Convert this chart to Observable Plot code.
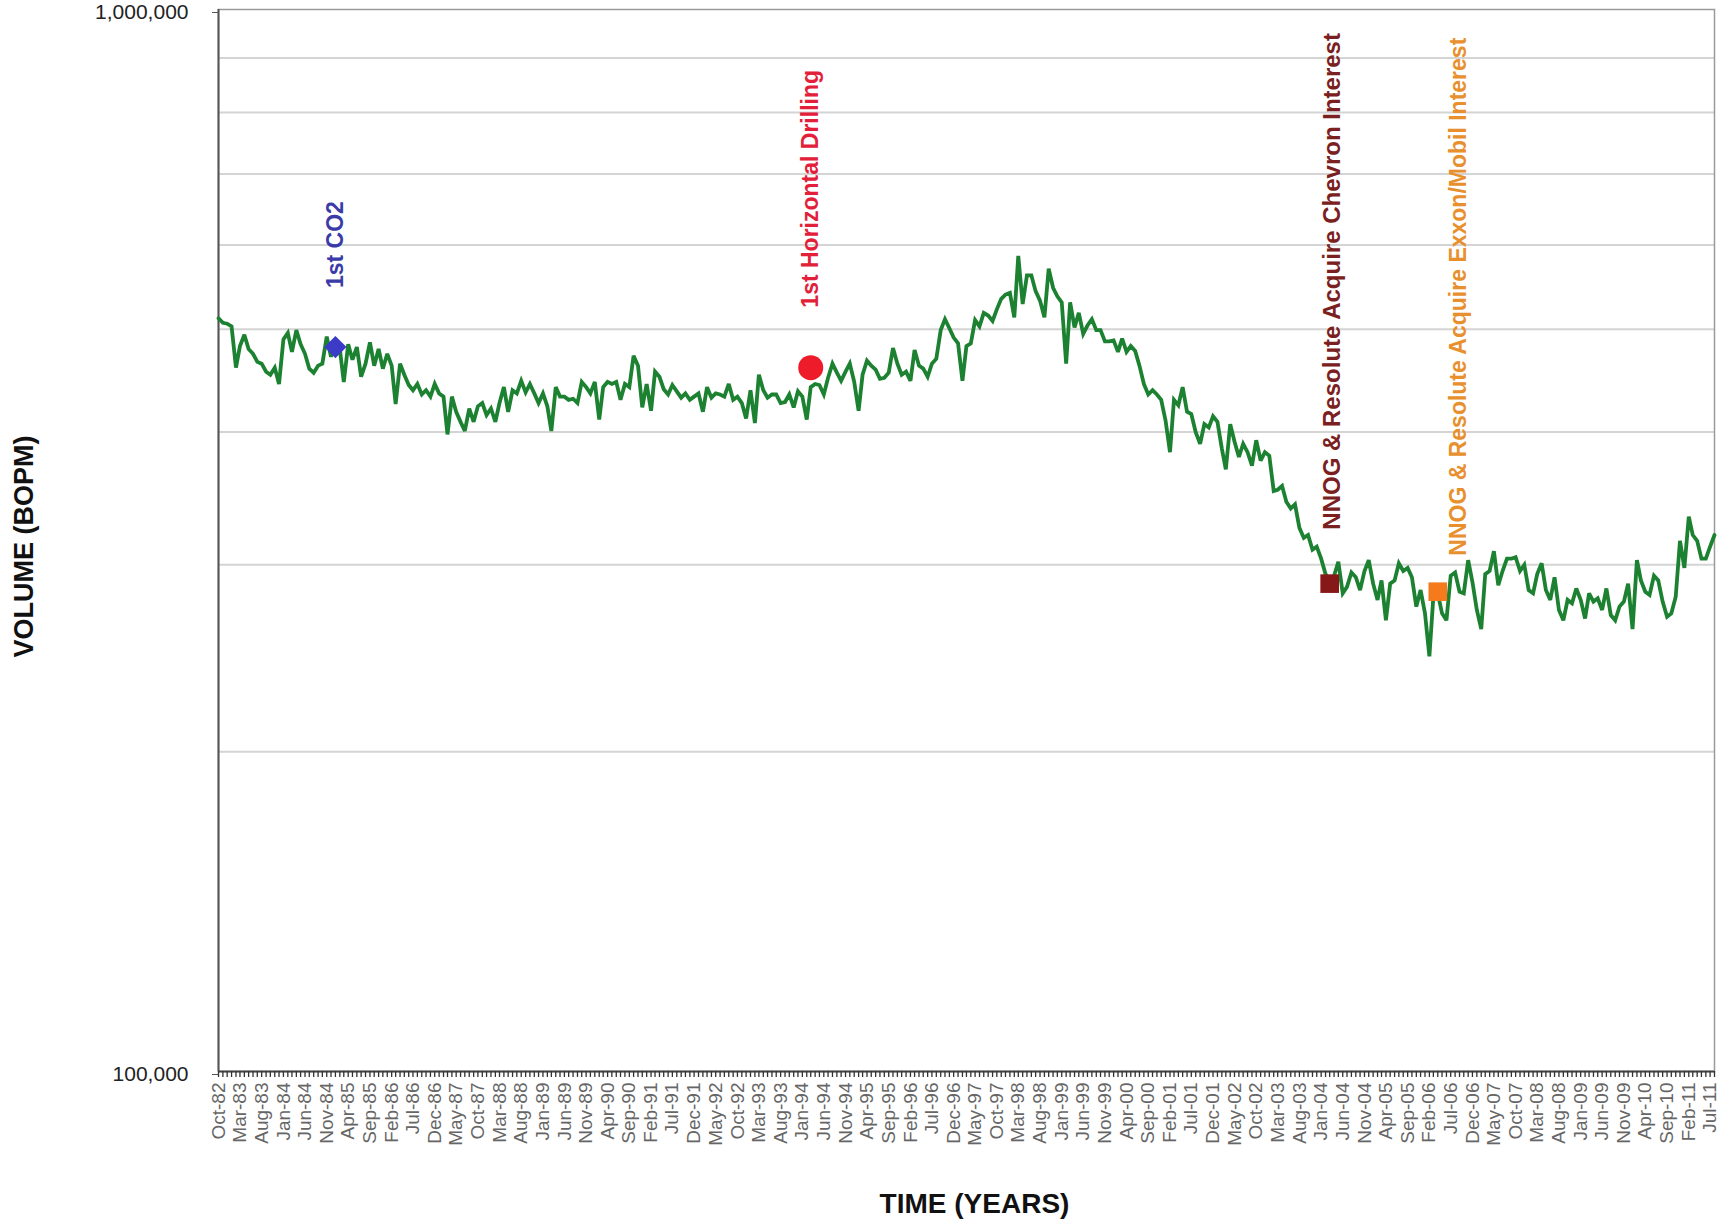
<!DOCTYPE html>
<html>
<head>
<meta charset="utf-8">
<script src="https://cdn.jsdelivr.net/npm/d3@7"></script>
<script src="https://cdn.jsdelivr.net/npm/@observablehq/plot@0.6"></script>
<style>
  html, body { margin: 0; padding: 0; background: #ffffff; }
  #chart { width: 1722px; height: 1225px; }
</style>
</head>
<body>
<div id="chart"></div>
<script>
// ---- data (monthly oil volume, thousand BOPM, starting Oct-82) ----
const firstMonth = "Oct-82";
const lastMonth = "Aug-11";
const volumeK = [
  512,507,506,503,460,482,494,479,474,466,
  464,456,453,460,444,489,496,476,499,484,
  474,459,455,462,464,492,471,486,479,446,
  484,468,481,451,464,486,462,479,459,474,
  462,425,464,453,443,438,444,434,438,432,
  444,435,432,398,432,418,409,401,421,409,
  423,426,415,421,409,426,441,418,438,435,
  447,436,444,435,426,435,423,401,441,432,
  432,429,430,426,446,441,435,
  446,411,441,446,444,446,429,444,441,472,
  462,422,444,419,456,451,439,434,443,437,
  431,435,429,432,435,418,441,431,435,434,
  432,444,429,432,426,412,438,408,453,438,
  431,434,434,426,427,434,422,437,432,411,
  441,444,443,434,450,464,455,447,456,464,
  446,419,453,467,462,458,449,450,455,480,
  464,453,456,447,478,462,459,451,464,469,
  499,511,501,491,485,447,
  482,485,510,503,518,515,509,522,534,539,
  541,513,586,528,562,562,543,532,513,570,
  547,537,530,464,530,502,518,495,504,511,
  499,499,487,487,488,476,490,476,482,477,
  462,444,434,438,434,429,410,383,429,424,
  441,418,416,400,390,407,404,414,409,386,
  369,407,392,379,390,383,372,393,376,383,
  380,352,353,356,344,339,342,325,318,320,
  310,312,304,294,290,293,302,
  282,286,295,292,284,296,303,288,278,290,
  266,288,290,301,296,298,292,274,284,270,
  246,280,282,270,266,293,295,283,282,303,
  289,272,261,294,296,309,287,296,304,304,
  305,296,300,284,282,294,301,284,278,292,
  272,266,278,276,285,278,267,282,277,279,
  272,285,269,266,274,277,288,261,303,290,
  283,281,293,290,277,268,270,280,316,298,
  333,320,316,304,304,312,320
];

const xTickLabels = [
  "Oct-82","Mar-83","Aug-83","Jan-84","Jun-84","Nov-84","Apr-85","Sep-85","Feb-86","Jul-86",
  "Dec-86","May-87","Oct-87","Mar-88","Aug-88","Jan-89","Jun-89","Nov-89","Apr-90","Sep-90",
  "Feb-91","Jul-91","Dec-91","May-92","Oct-92","Mar-93","Aug-93","Jan-94","Jun-94","Nov-94",
  "Apr-95","Sep-95","Feb-96","Jul-96","Dec-96","May-97","Oct-97","Mar-98","Aug-98","Jan-99",
  "Jun-99","Nov-99","Apr-00","Sep-00","Feb-01","Jul-01","Dec-01","May-02","Oct-02","Mar-03",
  "Aug-03","Jan-04","Jun-04","Nov-04","Apr-05","Sep-05","Feb-06","Jul-06","Dec-06","May-07",
  "Oct-07","Mar-08","Aug-08","Jan-09","Jun-09","Nov-09","Apr-10","Sep-10","Feb-11","Jul-11"
];
const yTicks = [100000, 1000000];
const yGridValues = [200000, 300000, 400000, 500000, 600000, 700000, 800000, 900000];

const eventNames = [
  "1st CO2",
  "1st Horizontal Drilling",
  "NNOG & Resolute Acquire Chevron Interest",
  "NNOG & Resolute Acquire Exxon/Mobil Interest"
];
const eventMonths = ["Jan-85", "Mar-94", "Mar-04", "Apr-06"];
const eventValuesK = [481, 460, 288, 283];

const yTitle = "VOLUME (BOPM)";
const xTitle = "TIME (YEARS)";

// ---- styles ----
const eventStyles = [
  {symbol: "diamond2", r: 10, marker: "#3b3bc8", text: "#3a3aa8", dx: 0, dy: -59, size: 23},
  {symbol: "circle", r: 12.5, marker: "#ee1c2a", text: "#e2203a", dx: 0, dy: -60, size: 23},
  {symbol: "square", r: 10.5, marker: "#861818", text: "#7a2020", dx: 3, dy: -54, size: 24},
  {symbol: "square", r: 10.5, marker: "#f47a1c", text: "#e8902e", dx: 21, dy: -36, size: 23}
];
const FONT = "'Liberation Sans', Arial, sans-serif";

// ---- build ----
const parseMonth = d3.utcParse("%b-%y");
const start = parseMonth(firstMonth);
const series = volumeK.map((v, i) => ({date: d3.utcMonth.offset(start, i), value: v * 1000}));
const monthTicks = series.map(d => d.date);
const xTickDates = xTickLabels.map(parseMonth);
const events = eventNames.map((name, i) => ({
  name, date: parseMonth(eventMonths[i]), value: eventValuesK[i] * 1000, style: eventStyles[i]
}));

const eventMarks = events.flatMap(e => [
  Plot.dot([e], {x: "date", y: "value", symbol: e.style.symbol, r: e.style.r, fill: e.style.marker, stroke: "none"}),
  Plot.text([e], {
    x: "date", y: "value", text: "name", rotate: -90, textAnchor: "start",
    dx: e.style.dx, dy: e.style.dy, fill: e.style.text, fontWeight: "bold", fontSize: e.style.size
  })
]);

const chart = Plot.plot({
  width: 1722,
  height: 1225,
  marginLeft: 218,
  marginRight: 8,
  marginTop: 9,
  marginBottom: 154,
  style: {fontFamily: FONT, background: "#ffffff", overflow: "visible"},
  x: {type: "utc", domain: [start, parseMonth(lastMonth)]},
  y: {type: "log", domain: [100000, 1000000]},
  marks: [
    Plot.gridY(yGridValues, {stroke: "#d4d4d4", strokeOpacity: 1, strokeWidth: 2}),
    Plot.frame({stroke: "#9a9a9a", strokeWidth: 1.5}),
    Plot.ruleX([start], {stroke: "#555", strokeWidth: 2}),
    Plot.ruleY([100000], {stroke: "#444", strokeWidth: 2}),
    Plot.axisY({ticks: yTicks, tickFormat: d3.format(","), tickSize: 6, tickPadding: 24,
      fontSize: 21, fill: "#222", stroke: "#555", label: null, dy: 3}),
    Plot.axisX({ticks: monthTicks, tickSize: 6, tickFormat: () => "", stroke: "#333",
      strokeWidth: 1.3, label: null}),
    Plot.axisX({ticks: xTickDates, tickSize: 0, tickPadding: 11, tickRotate: -90,
      tickFormat: d3.utcFormat("%b-%y"), fontSize: 19, fill: "#666", label: null}),
    Plot.lineY(series, {x: "date", y: "value", stroke: "#1c8232", strokeWidth: 3.8,
      strokeLinejoin: "miter", strokeMiterlimit: 3, curve: "linear"}),
    ...eventMarks,
    Plot.text([yTitle], {frameAnchor: "left", dx: -194, dy: 6, rotate: -90, fontWeight: "bold",
      fontSize: 27, fill: "#111", textAnchor: "middle"}),
    Plot.text([xTitle], {frameAnchor: "bottom", dy: 141, dx: 8, fontWeight: "bold",
      fontSize: 28, fill: "#111", textAnchor: "middle"})
  ]
});
document.getElementById("chart").appendChild(chart);
</script>
</body>
</html>
